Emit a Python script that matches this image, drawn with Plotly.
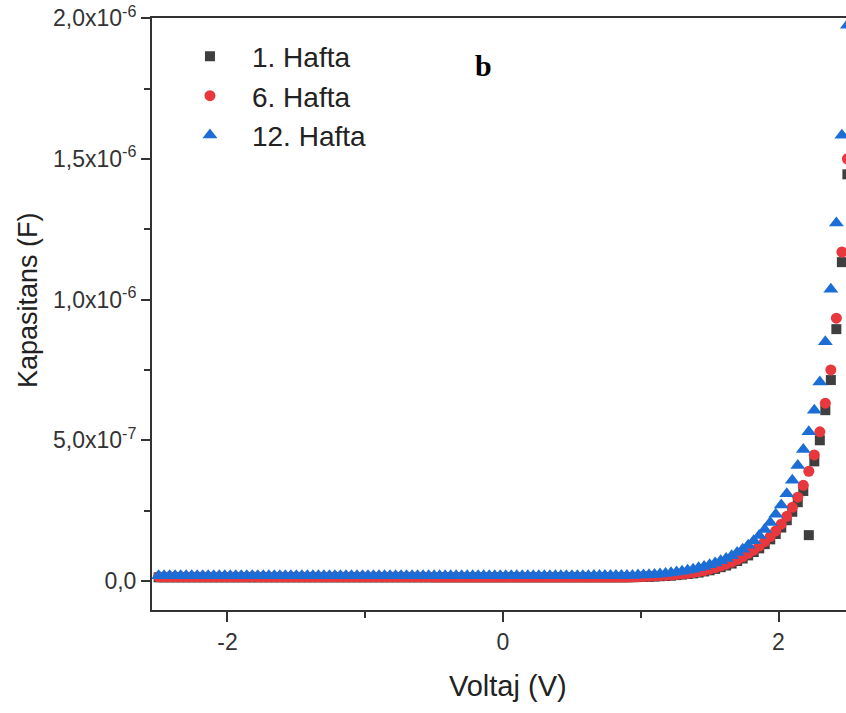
import plotly.graph_objects as go

voltage = [
    -2.50, -2.46, -2.42, -2.38, -2.34, -2.30, -2.26, -2.22, -2.18, -2.14,
    -2.10, -2.06, -2.02, -1.98, -1.94, -1.90, -1.86, -1.82, -1.78, -1.74,
    -1.70, -1.66, -1.62, -1.58, -1.54, -1.50, -1.46, -1.42, -1.38, -1.34,
    -1.30, -1.26, -1.22, -1.18, -1.14, -1.10, -1.06, -1.02, -0.98, -0.94,
    -0.90, -0.86, -0.82, -0.78, -0.74, -0.70, -0.66, -0.62, -0.58, -0.54,
    -0.50, -0.46, -0.42, -0.38, -0.34, -0.30, -0.26, -0.22, -0.18, -0.14,
    -0.10, -0.06, -0.02, 0.02, 0.06, 0.10, 0.14, 0.18, 0.22, 0.26,
    0.30, 0.34, 0.38, 0.42, 0.46, 0.50, 0.54, 0.58, 0.62, 0.66,
    0.70, 0.74, 0.78, 0.82, 0.86, 0.90, 0.94, 0.98, 1.02, 1.06,
    1.10, 1.14, 1.18, 1.22, 1.26, 1.30, 1.34, 1.38, 1.42, 1.46,
    1.50, 1.54, 1.58, 1.62, 1.66, 1.70, 1.74, 1.78, 1.82, 1.86,
    1.90, 1.94, 1.98, 2.02, 2.06, 2.10, 2.14, 2.18, 2.22, 2.26,
    2.30, 2.34, 2.38, 2.42, 2.46, 2.50,
]

# 1. Hafta (squares)
cap_week1 = [
    1.3e-8, 1.3e-8, 1.3e-8, 1.3e-8, 1.3e-8, 1.3e-8, 1.3e-8, 1.3e-8, 1.3e-8, 1.3e-8,
    1.3e-8, 1.3e-8, 1.3e-8, 1.3e-8, 1.3e-8, 1.3e-8, 1.3e-8, 1.3e-8, 1.3e-8, 1.3e-8,
    1.3e-8, 1.3e-8, 1.3e-8, 1.3e-8, 1.3e-8, 1.3e-8, 1.3e-8, 1.3e-8, 1.3e-8, 1.3e-8,
    1.3e-8, 1.3e-8, 1.3e-8, 1.3e-8, 1.3e-8, 1.3e-8, 1.3e-8, 1.3e-8, 1.3e-8, 1.3e-8,
    1.3e-8, 1.3e-8, 1.3e-8, 1.3e-8, 1.3e-8, 1.3e-8, 1.3e-8, 1.3e-8, 1.3e-8, 1.3e-8,
    1.3e-8, 1.3e-8, 1.3e-8, 1.3e-8, 1.3e-8, 1.3e-8, 1.3e-8, 1.3e-8, 1.3e-8, 1.3e-8,
    1.3e-8, 1.3e-8, 1.3e-8, 1.3e-8, 1.3e-8, 1.3e-8, 1.3e-8, 1.3e-8, 1.3e-8, 1.3e-8,
    1.3e-8, 1.3e-8, 1.3e-8, 1.3e-8, 1.3e-8, 1.3e-8, 1.3e-8, 1.3e-8, 1.3e-8, 1.3e-8,
    1.3e-8, 1.3e-8, 1.3e-8, 1.3e-8, 1.3e-8, 1.3e-8, 1.35e-8, 1.4e-8, 1.5e-8, 1.5e-8,
    1.6e-8, 1.7e-8, 1.8e-8, 1.9e-8, 2.1e-8, 2.3e-8, 2.5e-8, 2.7e-8, 3.0e-8, 3.4e-8,
    3.8e-8, 4.3e-8, 4.9e-8, 5.5e-8, 6.2e-8, 7.1e-8, 8.0e-8, 9.1e-8, 1.03e-7, 1.16e-7,
    1.31e-7, 1.48e-7, 1.67e-7, 1.90e-7, 2.16e-7, 2.46e-7, 2.80e-7, 3.20e-7, 1.63e-7, 4.25e-7,
    5.00e-7, 6.07e-7, 7.14e-7, 8.95e-7, 1.133e-6, 1.445e-6,
]

# 6. Hafta (circles)
cap_week6 = [
    1.5e-8, 1.5e-8, 1.5e-8, 1.5e-8, 1.5e-8, 1.5e-8, 1.5e-8, 1.5e-8, 1.5e-8, 1.5e-8,
    1.5e-8, 1.5e-8, 1.5e-8, 1.5e-8, 1.5e-8, 1.5e-8, 1.5e-8, 1.5e-8, 1.5e-8, 1.5e-8,
    1.5e-8, 1.5e-8, 1.5e-8, 1.5e-8, 1.5e-8, 1.5e-8, 1.5e-8, 1.5e-8, 1.5e-8, 1.5e-8,
    1.5e-8, 1.5e-8, 1.5e-8, 1.5e-8, 1.5e-8, 1.5e-8, 1.5e-8, 1.5e-8, 1.5e-8, 1.5e-8,
    1.5e-8, 1.5e-8, 1.5e-8, 1.5e-8, 1.5e-8, 1.5e-8, 1.5e-8, 1.5e-8, 1.5e-8, 1.5e-8,
    1.4e-8, 1.4e-8, 1.4e-8, 1.4e-8, 1.4e-8, 1.4e-8, 1.4e-8, 1.4e-8, 1.4e-8, 1.4e-8,
    1.4e-8, 1.4e-8, 1.4e-8, 1.4e-8, 1.4e-8, 1.4e-8, 1.4e-8, 1.4e-8, 1.4e-8, 1.4e-8,
    1.4e-8, 1.4e-8, 1.4e-8, 1.4e-8, 1.4e-8, 1.4e-8, 1.4e-8, 1.4e-8, 1.4e-8, 1.4e-8,
    1.4e-8, 1.4e-8, 1.4e-8, 1.4e-8, 1.4e-8, 1.4e-8, 1.45e-8, 1.5e-8, 1.6e-8, 1.7e-8,
    1.8e-8, 1.9e-8, 2.0e-8, 2.1e-8, 2.3e-8, 2.5e-8, 2.7e-8, 3.0e-8, 3.3e-8, 3.7e-8,
    4.2e-8, 4.7e-8, 5.3e-8, 6.0e-8, 6.7e-8, 7.6e-8, 8.6e-8, 9.8e-8, 1.10e-7, 1.24e-7,
    1.40e-7, 1.58e-7, 1.78e-7, 2.02e-7, 2.30e-7, 2.62e-7, 2.98e-7, 3.40e-7, 3.90e-7, 4.48e-7,
    5.30e-7, 6.32e-7, 7.50e-7, 9.34e-7, 1.169e-6, 1.50e-6,
]

# 12. Hafta (triangles)
cap_week12 = [
    1.9e-8, 1.9e-8, 1.9e-8, 1.9e-8, 1.9e-8, 1.9e-8, 1.9e-8, 1.9e-8, 1.9e-8, 1.9e-8,
    1.9e-8, 1.9e-8, 1.9e-8, 1.9e-8, 1.9e-8, 1.9e-8, 1.9e-8, 1.9e-8, 1.9e-8, 1.9e-8,
    1.9e-8, 1.9e-8, 1.9e-8, 1.9e-8, 1.9e-8, 1.9e-8, 1.9e-8, 1.9e-8, 1.9e-8, 1.9e-8,
    1.9e-8, 1.9e-8, 1.9e-8, 1.9e-8, 1.9e-8, 1.9e-8, 1.9e-8, 1.9e-8, 1.9e-8, 1.9e-8,
    1.9e-8, 1.9e-8, 1.9e-8, 1.9e-8, 1.9e-8, 1.9e-8, 1.9e-8, 1.9e-8, 1.9e-8, 1.9e-8,
    1.9e-8, 1.9e-8, 1.9e-8, 1.9e-8, 1.9e-8, 1.9e-8, 1.9e-8, 1.9e-8, 1.9e-8, 1.9e-8,
    1.9e-8, 1.9e-8, 1.9e-8, 1.9e-8, 1.9e-8, 1.9e-8, 1.9e-8, 1.9e-8, 1.9e-8, 1.9e-8,
    1.9e-8, 1.9e-8, 1.9e-8, 1.9e-8, 1.9e-8, 1.9e-8, 1.9e-8, 1.9e-8, 1.9e-8, 1.95e-8,
    1.95e-8, 2.0e-8, 2.0e-8, 2.0e-8, 2.0e-8, 2.0e-8, 2.0e-8, 2.1e-8, 2.1e-8, 2.2e-8,
    2.3e-8, 2.5e-8, 2.7e-8, 2.9e-8, 3.2e-8, 3.5e-8, 3.8e-8, 4.2e-8, 4.7e-8, 5.2e-8,
    5.8e-8, 6.4e-8, 7.2e-8, 8.0e-8, 9.0e-8, 1.01e-7, 1.13e-7, 1.27e-7, 1.43e-7, 1.62e-7,
    1.83e-7, 2.08e-7, 2.37e-7, 2.70e-7, 3.10e-7, 3.58e-7, 4.10e-7, 4.67e-7, 5.30e-7, 6.07e-7,
    7.07e-7, 8.50e-7, 1.037e-6, 1.272e-6, 1.584e-6, 1.975e-6,
]

series_names = ["1. Hafta", "6. Hafta", "12. Hafta"]
series_colors = ["#3f3f3f", "#e8383d", "#1c6ed6"]
series_symbols = ["square", "circle", "triangle-up"]
series_sizes = [10, 11, 13]

y_tick_vals = [0, 5e-7, 1e-6, 1.5e-6, 2e-6]
y_tick_text = ["0,0", "5,0x10<sup>-7</sup>", "1,0x10<sup>-6</sup>",
               "1,5x10<sup>-6</sup>", "2,0x10<sup>-6</sup>"]
y_minor_vals = [2.5e-7, 7.5e-7, 1.25e-6, 1.75e-6]
x_tick_vals = [-2, 0, 2]
x_tick_text = ["-2", "0", "2"]
x_minor_vals = [-1, 1]

FONT = "Liberation Sans, Arial, sans-serif"
AX = "#333333"

fig = go.Figure()
for ys, name, col, sym, sz in zip([cap_week1, cap_week6, cap_week12], series_names,
                                  series_colors, series_symbols, series_sizes):
    fig.add_trace(go.Scatter(
        x=voltage, y=ys, mode="markers", name=name,
        marker=dict(symbol=sym, size=sz, color=col, line=dict(width=0)),
    ))

fig.update_layout(
    width=846, height=713,
    margin=dict(l=152, r=0, t=18, b=103),
    paper_bgcolor="white", plot_bgcolor="white",
    font=dict(family=FONT, color="#222222"),
    showlegend=True,
    legend=dict(x=0.023, y=0.977, xanchor="left", yanchor="top",
                bgcolor="rgba(0,0,0,0)", font=dict(size=28, color="#222222", family=FONT),
                itemwidth=74, tracegroupgap=0, itemsizing="trace"),
    xaxis=dict(range=[-2.548, 2.49], showline=True, linecolor=AX, linewidth=2,
               mirror=True, ticks="outside", ticklen=10, tickwidth=2, tickcolor=AX,
               tickmode="array", tickvals=x_tick_vals, ticktext=x_tick_text,
               tickfont=dict(size=23, color="#333333", family=FONT),
               showgrid=False, zeroline=False,
               minor=dict(tickmode="array", tickvals=x_minor_vals, ticks="outside",
                          ticklen=6, tickwidth=2, tickcolor=AX, showgrid=False)),
    yaxis=dict(range=[-1.03e-7, 2.0005e-6], showline=True, linecolor=AX, linewidth=2,
               mirror=False, ticks="outside", ticklen=9, tickwidth=2, tickcolor=AX,
               tickmode="array", tickvals=y_tick_vals, ticktext=y_tick_text,
               tickfont=dict(size=23, color="#333333", family=FONT),
               showgrid=False, zeroline=False,
               minor=dict(tickmode="array", tickvals=y_minor_vals, ticks="outside",
                          ticklen=6, tickwidth=2, tickcolor=AX, showgrid=False)),
    annotations=[
        dict(text="Kapasitans (F)", xref="paper", yref="paper", x=-0.1787, y=0.5236,
             textangle=-90, showarrow=False, xanchor="center", yanchor="middle",
             font=dict(size=27, color="#222222", family=FONT)),
        dict(text="Voltaj (V)", xref="paper", yref="paper", x=0.513, y=-0.128,
             showarrow=False, xanchor="center", yanchor="middle",
             font=dict(size=29, color="#222222", family=FONT)),
        dict(text="<b>b</b>", xref="paper", yref="paper", x=0.478, y=0.919,
             showarrow=False, xanchor="center", yanchor="middle",
             font=dict(size=30, color="black", family="Liberation Serif, Times New Roman, serif")),
    ],
)

fig.write_html("out.html")
